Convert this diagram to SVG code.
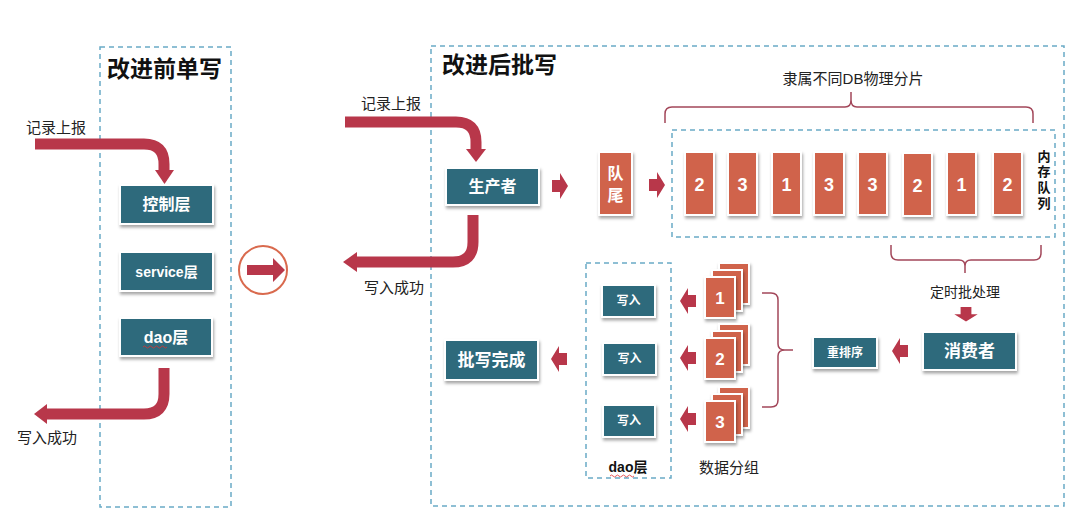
<svg xmlns="http://www.w3.org/2000/svg" xmlns:xlink="http://www.w3.org/1999/xlink" width="1080" height="523" viewBox="0 0 1080 523">
<style>
.dash{fill:none;stroke:#6aabc6;stroke-width:1.5;stroke-dasharray:5 4}
.teal{fill:#2e6b7b;stroke:#ffffff;stroke-width:2;filter:url(#sh)}
.org{fill:#d0644b;stroke:#ffffff;stroke-width:2;filter:url(#sh)}
.wt{fill:#ffffff;font-family:"Liberation Sans","Noto Sans CJK SC",sans-serif;font-weight:bold;text-anchor:middle}
.bt{fill:#222;font-family:"Liberation Sans","Noto Sans CJK SC",sans-serif;text-anchor:middle}
.title{fill:#111;font-family:"Liberation Sans","Noto Sans CJK SC",sans-serif;font-weight:bold;font-size:23px}
.thick{fill:none;stroke:#b8374a;stroke-width:11}
.head{fill:#b8374a}
.brace{fill:none;stroke:#a3475a;stroke-width:1.5}
.sq{fill:none;stroke:#e03030;stroke-width:0.8}
</style>
<defs>
<filter id="sh" x="-20%" y="-20%" width="150%" height="150%">
<feDropShadow dx="1" dy="2.5" stdDeviation="1.5" flood-color="#000" flood-opacity="0.35"/>
</filter>
<path id="sa" d="M0,-6 H8 V-13 L16,0 L8,13 V6 H0 Z" fill="#b8374a"/>
</defs>
<rect width="1080" height="523" fill="#ffffff"/>

<!-- frames -->
<rect class="dash" x="100" y="47" width="131" height="460"/>
<rect class="dash" x="431" y="46" width="633" height="460"/>
<rect class="dash" x="672" y="130" width="383" height="107"/>
<rect class="dash" x="586" y="263" width="85" height="215"/>
<text class="title" x="107" y="77">改进前单写</text>
<text class="title" x="442" y="73">改进后批写</text>

<!-- connectors -->
<g id="connectors">
<path class="thick" d="M35,144 H144 Q164,144 164,164 V171"/>
<polygon class="head" points="155,170 174,170 164.5,184"/>
<path class="thick" d="M164,368 V394 Q164,414 144,414 H46"/>
<polygon class="head" points="47,404 47,424 34,414"/>
<path class="thick" d="M345,122 H456 Q476,122 476,142 V150"/>
<polygon class="head" points="466,149 486,149 476,162"/>
<path class="thick" d="M473,215 V242 Q473,262 453,262 H356"/>
<polygon class="head" points="357,252 357,272 343,262"/>
<use xlink:href="#sa" transform="translate(552,186)"/>
<use xlink:href="#sa" transform="translate(649,185)"/>
<use xlink:href="#sa" transform="translate(966,307) rotate(90) scale(0.9)"/>
<use xlink:href="#sa" transform="translate(908,351) rotate(180)"/>
<use xlink:href="#sa" transform="translate(696,301) rotate(180)"/>
<use xlink:href="#sa" transform="translate(696,358) rotate(180)"/>
<use xlink:href="#sa" transform="translate(696,419) rotate(180)"/>
<use xlink:href="#sa" transform="translate(567,359) rotate(180)"/>
<path class="brace" d="M665,123 V114 Q665,107 672,107 H845 Q851,107 851,100 V92 M851,100 Q851,107 857,107 H1026 Q1033,107 1033,114 V123"/>
<path class="brace" d="M891,245 V253 Q891,260 898,260 H959 Q965,260 965,266 V273 M965,266 Q965,260 971,260 H1034 Q1041,260 1041,253 V245"/>
<path class="brace" d="M762,293 H771 Q778,293 778,300 V344 Q778,350 785,350 H793 M785,350 Q778,350 778,356 V400 Q778,407 771,407 H762"/>
</g>

<!-- left labels -->
<text class="bt" x="56" y="133" font-size="15">记录上报</text>
<text class="bt" x="47" y="443" font-size="15">写入成功</text>
<text class="bt" x="391" y="109" font-size="15">记录上报</text>
<text class="bt" x="394" y="293" font-size="15">写入成功</text>

<g id="n-ctrl"><rect class="teal" x="120" y="185" width="93" height="39"/><text class="wt" x="166.5" y="210" font-size="16">控制层</text></g>
<g id="n-service"><rect class="teal" x="120" y="252" width="93" height="39"/><text class="wt" x="166.5" y="277" font-size="14">service层</text></g>
<g id="n-dao"><rect class="teal" x="120" y="318" width="92" height="38"/><text class="wt" x="166" y="343" font-size="16">dao层</text>
<path class="sq" d="M143,347 q1.5,-2 3,0 t3,0 t3,0 t3,0 t3,0 t3,0 t3,0 t3,0"/></g>

<g id="n-switch">
<circle cx="263" cy="270" r="24" fill="none" stroke="#d96a4e" stroke-width="2"/>
<polygon class="head" points="247,265 273,265 273,258 285,270 273,282 273,275 247,275"/>
</g>

<g id="n-producer"><rect class="teal" x="446" y="168" width="93" height="37"/><text class="wt" x="492.5" y="192" font-size="16">生产者</text></g>
<g id="n-tail"><rect class="org" x="599" y="152" width="33" height="63"/>
<text class="wt" x="615.5" y="179" font-size="16">队</text><text class="wt" x="615.5" y="201" font-size="16">尾</text></g>

<text class="bt" x="853" y="84" font-size="15">隶属不同DB物理分片</text>

<g id="n-queue">
<rect class="org" x="685" y="152" width="29" height="63"/><text class="wt" x="699.5" y="191" font-size="18">2</text>
<rect class="org" x="728" y="152" width="29" height="63"/><text class="wt" x="742.5" y="191" font-size="18">3</text>
<rect class="org" x="772" y="152" width="29" height="63"/><text class="wt" x="786.5" y="191" font-size="18">1</text>
<rect class="org" x="814" y="152" width="30" height="63"/><text class="wt" x="829" y="191" font-size="18">3</text>
<rect class="org" x="858" y="152" width="29" height="63"/><text class="wt" x="872.5" y="191" font-size="18">3</text>
<rect class="org" x="903" y="153" width="29" height="63"/><text class="wt" x="917.5" y="192" font-size="18">2</text>
<rect class="org" x="947" y="152" width="29" height="63"/><text class="wt" x="961.5" y="191" font-size="18">1</text>
<rect class="org" x="993" y="152" width="29" height="63"/><text class="wt" x="1007.5" y="191" font-size="18">2</text>
<g font-size="13" font-weight="bold" fill="#111" font-family="'Liberation Sans','Noto Sans CJK SC',sans-serif" text-anchor="middle">
<text x="1044" y="161">内</text><text x="1044" y="176">存</text><text x="1044" y="192">队</text><text x="1044" y="208">列</text>
</g>
</g>

<text class="bt" x="965" y="297" font-size="14">定时批处理</text>

<g id="n-consumer"><rect class="teal" x="923" y="332" width="93" height="38"/><text class="wt" x="969.5" y="357" font-size="17">消费者</text></g>
<g id="n-reorder"><rect class="teal" x="813" y="337" width="64" height="31"/><text class="wt" x="845" y="357" font-size="12">重排序</text></g>

<g id="n-group1">
<rect class="org" x="719" y="263" width="30" height="41"/>
<rect class="org" x="712" y="270" width="30" height="41"/>
<rect class="org" x="705" y="277" width="30" height="41"/><text class="wt" x="720" y="304" font-size="17">1</text>
</g>
<g id="n-group2">
<rect class="org" x="719" y="324" width="30" height="41"/>
<rect class="org" x="712" y="331" width="30" height="41"/>
<rect class="org" x="705" y="338" width="30" height="41"/><text class="wt" x="720" y="365" font-size="17">2</text>
</g>
<g id="n-group3">
<rect class="org" x="719" y="387" width="30" height="41"/>
<rect class="org" x="712" y="394" width="30" height="41"/>
<rect class="org" x="705" y="401" width="30" height="41"/><text class="wt" x="720" y="428" font-size="17">3</text>
</g>
<text class="bt" x="729" y="473" font-size="15">数据分组</text>

<g id="n-write1"><rect class="teal" x="602" y="285" width="53" height="32"/><text class="wt" x="628.5" y="305" font-size="12">写入</text></g>
<g id="n-write2"><rect class="teal" x="603" y="343" width="53" height="32"/><text class="wt" x="629.5" y="363" font-size="12">写入</text></g>
<g id="n-write3"><rect class="teal" x="603" y="405" width="52" height="32"/><text class="wt" x="629" y="425" font-size="12">写入</text></g>
<g id="n-daolayer"><text x="628" y="472" font-size="14" font-weight="bold" fill="#111" font-family="'Liberation Sans','Noto Sans CJK SC',sans-serif" text-anchor="middle">dao层</text>
<path class="sq" d="M610,476 q1.5,-2 3,0 t3,0 t3,0 t3,0 t3,0 t3,0 t3,0 t3,0"/></g>

<g id="n-done"><rect class="teal" x="445" y="340" width="93" height="40"/><text class="wt" x="491.5" y="366" font-size="17">批写完成</text></g>
</svg>
